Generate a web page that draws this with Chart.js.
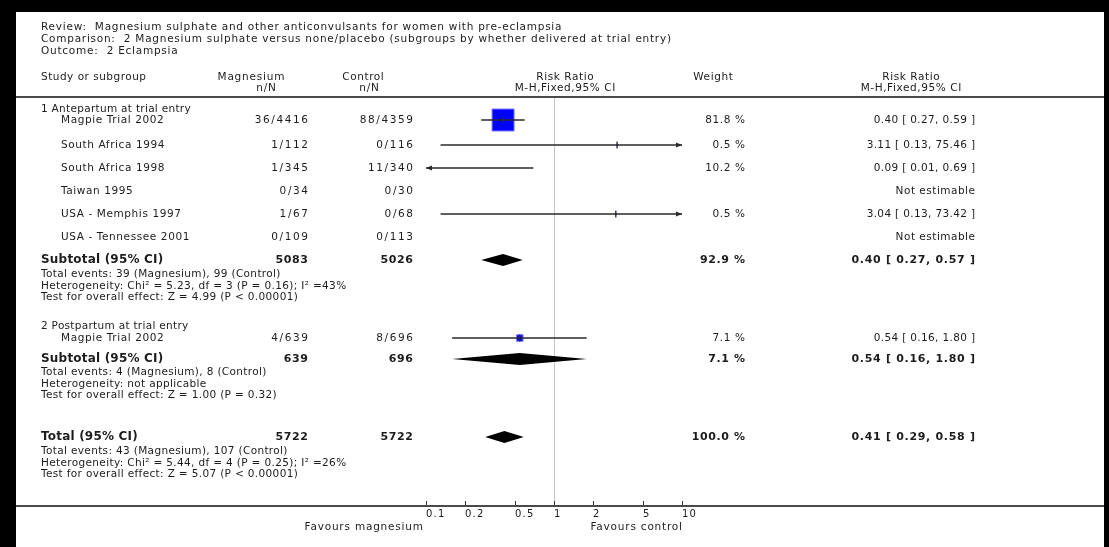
<!DOCTYPE html>
<html>
<head>
<meta charset="utf-8">
<title>Magnesium sulphate versus none/placebo: Eclampsia</title>
<script src="https://cdn.jsdelivr.net/npm/chart.js@4.4.1/dist/chart.umd.min.js"></script>
<style>
  html, body { margin: 0; padding: 0; background: #000; overflow: hidden; }
  canvas { display: block; }
</style>
</head>
<body>
<canvas id="forest" width="1109" height="547"></canvas>
<script>
// ---------------- data ----------------
const TITLE_LINES = [
  'Review:  Magnesium sulphate and other anticonvulsants for women with pre-eclampsia',
  'Comparison:  2 Magnesium sulphate versus none/placebo (subgroups by whether delivered at trial entry)',
  'Outcome:  2 Eclampsia'
];
const GROUP_TITLES = ['1 Antepartum at trial entry', '2 Postpartum at trial entry'];

const STUDY_NAMES = ['Magpie Trial 2002', 'South Africa 1994', 'South Africa 1998', 'Taiwan 1995',
                     'USA - Memphis 1997', 'USA - Tennessee 2001', 'Magpie Trial 2002'];
const MG_EVENTS = [36, 1, 1, 0, 1, 0, 4];
const MG_TOTAL  = [4416, 112, 345, 34, 67, 109, 639];
const CT_EVENTS = [88, 0, 11, 0, 0, 0, 8];
const CT_TOTAL  = [4359, 116, 340, 30, 68, 113, 696];
const RR        = [0.40, 3.11, 0.09, null, 3.04, null, 0.54];
const RR_LOW    = [0.27, 0.13, 0.01, null, 0.13, null, 0.16];
const RR_HIGH   = [0.59, 75.46, 0.69, null, 73.42, null, 1.80];
const WEIGHT    = [81.8, 0.5, 10.2, null, 0.5, null, 7.1];

const SUMMARY_LABELS = ['Subtotal (95% CI)', 'Subtotal (95% CI)', 'Total (95% CI)'];
const SUMMARY_MG     = [5083, 639, 5722];
const SUMMARY_CT     = [5026, 696, 5722];
const SUMMARY_RR     = [0.40, 0.54, 0.41];
const SUMMARY_LOW    = [0.27, 0.16, 0.29];
const SUMMARY_HIGH   = [0.57, 1.80, 0.58];
const SUMMARY_WEIGHT = [92.9, 7.1, 100.0];
const SUMMARY_NOTES = [
  ['Total events: 39 (Magnesium), 99 (Control)',
   'Heterogeneity: Chi\u00B2 = 5.23, df = 3 (P = 0.16); I\u00B2 =43%',
   'Test for overall effect: Z = 4.99 (P < 0.00001)'],
  ['Total events: 4 (Magnesium), 8 (Control)',
   'Heterogeneity: not applicable',
   'Test for overall effect: Z = 1.00 (P = 0.32)'],
  ['Total events: 43 (Magnesium), 107 (Control)',
   'Heterogeneity: Chi\u00B2 = 5.44, df = 4 (P = 0.25); I\u00B2 =26%',
   'Test for overall effect: Z = 5.07 (P < 0.00001)']
];
const AXIS_TICKS = [0.1, 0.2, 0.5, 1, 2, 5, 10];
const FAVOURS = ['Favours magnesium', 'Favours control'];

// ---------------- layout ----------------
const W = 1109, H = 547;
const FRAME = { left: 16, top: 12, right: 1104 };
const PLOT = { left: 426, right: 682 };          // pixel span of the 0.1 .. 10 axis
const COL = { label: 41, study: 61, mg: 308, ct: 413, weight: 745, rr: 975 };
const TITLE_Y = [27, 39, 51];
const HEAD_Y = [77, 88];
const RULE_Y = 97, AXIS_Y = 506;
const GROUP_Y = [109, 326];
const STUDY_Y = [120, 145, 168, 191, 214, 237, 338];
const SUMMARY_Y = [260, 359, 437];
const NOTE_Y0 = [274, 372, 451], NOTE_STEP = 11.8;
const FONT = '"DejaVu Sans", sans-serif';
const INK = '#1c1c1c';
const SQUARE_REF = 22 / Math.sqrt(81.8);   // square side per sqrt(weight %)

function txt(ctx, s, x, y, o = {}) {
  const ls = o.ls ?? 0.4;
  ctx.save();
  ctx.font = (o.bold ? 'bold ' : '') + (o.size || 10.5) + 'px ' + FONT;
  ctx.letterSpacing = ls + 'px';
  ctx.textAlign = o.align || 'left';
  ctx.textBaseline = 'middle';
  ctx.fillStyle = o.color || INK;
  let dx = 0;
  if (o.align === 'right') dx = ls;
  else if (o.align === 'center') dx = ls / 2;
  ctx.fillText(s, x + dx, y);
  ctx.restore();
}
const ciText = (r, l, h) => `${r.toFixed(2)} [ ${l.toFixed(2)}, ${h.toFixed(2)} ]`;

// blue squares: one point per study whose estimate lies on the axis
const squarePoints = [], squareRadii = [];
RR.forEach((r, i) => {
  if (r === null || r < AXIS_TICKS[0] || r > AXIS_TICKS[AXIS_TICKS.length - 1]) return;
  squarePoints.push({ x: r, y: STUDY_Y[i] });
  squareRadii.push(SQUARE_REF * Math.sqrt(WEIGHT[i]) / Math.SQRT2);
});

const forestPlugin = {
  id: 'forest',
  beforeDraw(chart) {
    const ctx = chart.ctx;
    ctx.save();
    ctx.fillStyle = '#000';
    ctx.fillRect(0, 0, W, H);
    ctx.fillStyle = '#fff';
    ctx.fillRect(FRAME.left, FRAME.top, FRAME.right - FRAME.left, H - FRAME.top);
    ctx.restore();
  },
  beforeDatasetsDraw(chart) {
    const { ctx, scales: { x, y } } = chart;
    // line of no effect
    ctx.save();
    ctx.strokeStyle = '#c4c4c4';
    ctx.lineWidth = 1;
    const x1 = Math.round(x.getPixelForValue(1)) + 0.5;
    ctx.beginPath();
    ctx.moveTo(x1, y.getPixelForValue(RULE_Y));
    ctx.lineTo(x1, y.getPixelForValue(AXIS_Y));
    ctx.stroke();
    ctx.restore();
  },
  afterDatasetsDraw(chart) {
    const { ctx, scales: { x, y } } = chart;
    const lo = AXIS_TICKS[0], hi = AXIS_TICKS[AXIS_TICKS.length - 1];
    ctx.save();
    ctx.strokeStyle = '#2a2a2a';
    ctx.fillStyle = '#2a2a2a';
    ctx.lineWidth = 1.3;
    RR.forEach((r, i) => {
      if (r === null) return;
      const py = y.getPixelForValue(STUDY_Y[i]);
      const xl = x.getPixelForValue(Math.max(RR_LOW[i], lo));
      const xh = x.getPixelForValue(Math.min(RR_HIGH[i], hi));
      ctx.beginPath();
      ctx.moveTo(xl, py);
      ctx.lineTo(xh, py);
      ctx.stroke();
      if (r >= lo && r <= hi) {
        const xr = x.getPixelForValue(r);
        ctx.beginPath();
        ctx.moveTo(xr, py - 3.5);
        ctx.lineTo(xr, py + 3.5);
        ctx.stroke();
      }
      if (RR_LOW[i] < lo) {
        ctx.beginPath();
        ctx.moveTo(xl, py);
        ctx.lineTo(xl + 6, py - 2.5);
        ctx.lineTo(xl + 6, py + 2.5);
        ctx.closePath();
        ctx.fill();
      }
      if (RR_HIGH[i] > hi) {
        ctx.beginPath();
        ctx.moveTo(xh, py);
        ctx.lineTo(xh - 6, py - 2.5);
        ctx.lineTo(xh - 6, py + 2.5);
        ctx.closePath();
        ctx.fill();
      }
    });
    // pooled diamonds
    ctx.fillStyle = '#000';
    SUMMARY_RR.forEach((r, i) => {
      const py = y.getPixelForValue(SUMMARY_Y[i]);
      ctx.beginPath();
      ctx.moveTo(x.getPixelForValue(SUMMARY_LOW[i]), py);
      ctx.lineTo(x.getPixelForValue(r), py - 6);
      ctx.lineTo(x.getPixelForValue(SUMMARY_HIGH[i]), py);
      ctx.lineTo(x.getPixelForValue(r), py + 6);
      ctx.closePath();
      ctx.fill();
    });
    ctx.restore();
  },
  afterDraw(chart) {
    const { ctx, scales: { x, y } } = chart;
    // horizontal rules
    ctx.save();
    ctx.strokeStyle = '#4a4a4a';
    ctx.lineWidth = 2;
    [RULE_Y, AXIS_Y].forEach(v => {
      const py = y.getPixelForValue(v);
      ctx.beginPath();
      ctx.moveTo(FRAME.left, py);
      ctx.lineTo(FRAME.right, py);
      ctx.stroke();
    });
    // axis ticks and labels
    ctx.lineWidth = 1;
    ctx.strokeStyle = '#333';
    AXIS_TICKS.forEach(t => {
      const px = Math.round(x.getPixelForValue(t)) + 0.5;
      const py = y.getPixelForValue(AXIS_Y);
      ctx.beginPath();
      ctx.moveTo(px, py - 1);
      ctx.lineTo(px, py - 5);
      ctx.stroke();
      txt(ctx, String(t), px - 0.5, py + 8, { size: 10, ls: 1.2 });
    });
    ctx.restore();
    const fy = y.getPixelForValue(AXIS_Y) + 21;
    txt(ctx, FAVOURS[0], x.getPixelForValue(AXIS_TICKS[0]) - 3, fy, { size: 10.5, ls: 0.8, align: 'right' });
    txt(ctx, FAVOURS[1], x.getPixelForValue(AXIS_TICKS[AXIS_TICKS.length - 1]), fy, { size: 10.5, ls: 0.8, align: 'right' });

    // titles
    TITLE_LINES.forEach((s, i) => txt(ctx, s, COL.label, TITLE_Y[i], { size: 10.5, ls: 0.75 }));
    // column headers
    txt(ctx, 'Study or subgroup', COL.label, HEAD_Y[0], { ls: 0.5 });
    txt(ctx, 'Magnesium', 251, HEAD_Y[0], { align: 'center', ls: 0.8 });
    txt(ctx, 'n/N', 266, HEAD_Y[1], { align: 'center', ls: 0.8 });
    txt(ctx, 'Control', 363, HEAD_Y[0], { align: 'center', ls: 0.6 });
    txt(ctx, 'n/N', 369, HEAD_Y[1], { align: 'center', ls: 0.8 });
    txt(ctx, 'Risk Ratio', 565, HEAD_Y[0], { align: 'center', ls: 0.6 });
    txt(ctx, 'M-H,Fixed,95% CI', 565, HEAD_Y[1], { align: 'center', ls: 0.6 });
    txt(ctx, 'Weight', 713, HEAD_Y[0], { align: 'center', ls: 0.6 });
    txt(ctx, 'Risk Ratio', 911, HEAD_Y[0], { align: 'center', ls: 0.6 });
    txt(ctx, 'M-H,Fixed,95% CI', 911, HEAD_Y[1], { align: 'center', ls: 0.6 });

    // group titles
    GROUP_TITLES.forEach((s, i) => txt(ctx, s, COL.label, y.getPixelForValue(GROUP_Y[i]), { ls: 0.3 }));
    // study rows
    STUDY_NAMES.forEach((s, i) => {
      const py = y.getPixelForValue(STUDY_Y[i]);
      txt(ctx, s, COL.study, py, { ls: 0.6 });
      txt(ctx, `${MG_EVENTS[i]}/${MG_TOTAL[i]}`, COL.mg, py, { align: 'right', ls: 1.6 });
      txt(ctx, `${CT_EVENTS[i]}/${CT_TOTAL[i]}`, COL.ct, py, { align: 'right', ls: 1.6 });
      if (RR[i] === null) {
        txt(ctx, 'Not estimable', COL.rr, py, { align: 'right', ls: 0.5 });
      } else {
        txt(ctx, `${WEIGHT[i].toFixed(1)} %`, COL.weight, py, { align: 'right', ls: 0.6 });
        txt(ctx, ciText(RR[i], RR_LOW[i], RR_HIGH[i]), COL.rr, py, { align: 'right', ls: 0.35 });
      }
    });
    // pooled rows
    SUMMARY_LABELS.forEach((s, i) => {
      const py = y.getPixelForValue(SUMMARY_Y[i]);
      txt(ctx, s, COL.label, py, { bold: true, size: 12, ls: 0.2 });
      txt(ctx, String(SUMMARY_MG[i]), COL.mg, py, { bold: true, size: 11, ls: 0.6, align: 'right' });
      txt(ctx, String(SUMMARY_CT[i]), COL.ct, py, { bold: true, size: 11, ls: 0.6, align: 'right' });
      txt(ctx, `${SUMMARY_WEIGHT[i].toFixed(1)} %`, COL.weight, py, { bold: true, size: 11, ls: 0.6, align: 'right' });
      txt(ctx, ciText(SUMMARY_RR[i], SUMMARY_LOW[i], SUMMARY_HIGH[i]), COL.rr, py, { bold: true, size: 11, ls: 0.7, align: 'right' });
      SUMMARY_NOTES[i].forEach((n, k) =>
        txt(ctx, n, COL.label, y.getPixelForValue(NOTE_Y0[i] + k * NOTE_STEP), { size: 10.5, ls: 0.35 }));
    });
  }
};

new Chart(document.getElementById('forest'), {
  type: 'scatter',
  data: {
    datasets: [{
      data: squarePoints,
      pointStyle: 'rect',
      pointRadius: squareRadii,
      pointHoverRadius: squareRadii,
      backgroundColor: '#0000ff',
      borderColor: '#7a7aff',
      borderWidth: 1
    }]
  },
  options: {
    responsive: false,
    animation: false,
    events: [],
    layout: { autoPadding: false, padding: { left: PLOT.left, right: W - PLOT.right, top: 0, bottom: 0 } },
    scales: {
      x: { type: 'logarithmic', min: AXIS_TICKS[0], max: AXIS_TICKS[AXIS_TICKS.length - 1], display: false },
      y: { type: 'linear', min: 0, max: H, reverse: true, display: false }
    },
    plugins: { legend: { display: false }, tooltip: { enabled: false } }
  },
  plugins: [forestPlugin]
});
</script>
</body>
</html>
